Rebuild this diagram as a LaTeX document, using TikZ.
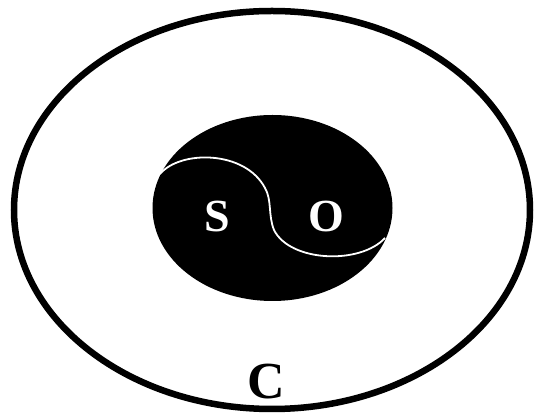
\documentclass[tikz,border=0pt]{standalone}
\usepackage{fontspec}
\setmainfont{Liberation Serif}
\usepackage{tikz}

\begin{document}
\begin{tikzpicture}[
  x=1pt, y=-1pt,
  letter/.style={inner sep=0pt, font=\fontsize{46}{48}\selectfont\bfseries},
  outer/.style={draw, line width=6.5pt},
  divide/.style={draw=white, line width=1.8pt}
]
 \useasboundingbox (0,0) rectangle (539,419);
 % outer ellipse
 \path[outer] (272,210) ellipse [x radius=258, y radius=199];
 % inner black ellipse with the dividing curve
 \fill[black] (272.5,208) ellipse [x radius=120, y radius=93];
 \path[divide] (160,174) .. controls (180,150) and (245,150) .. (265,188)
   .. controls (272,200) and (268,215) .. (274,230)
   .. controls (290,262) and (360,265) .. (385,238);
 \node[letter, text=white] (subj) at (217,216) {S};
 \node[letter, text=white] (obj) at (326,216) {O};
 \node[letter, font=\fontsize{52}{54}\selectfont\bfseries] (ctx) at (266,382) {C};
\end{tikzpicture}
\end{document}
